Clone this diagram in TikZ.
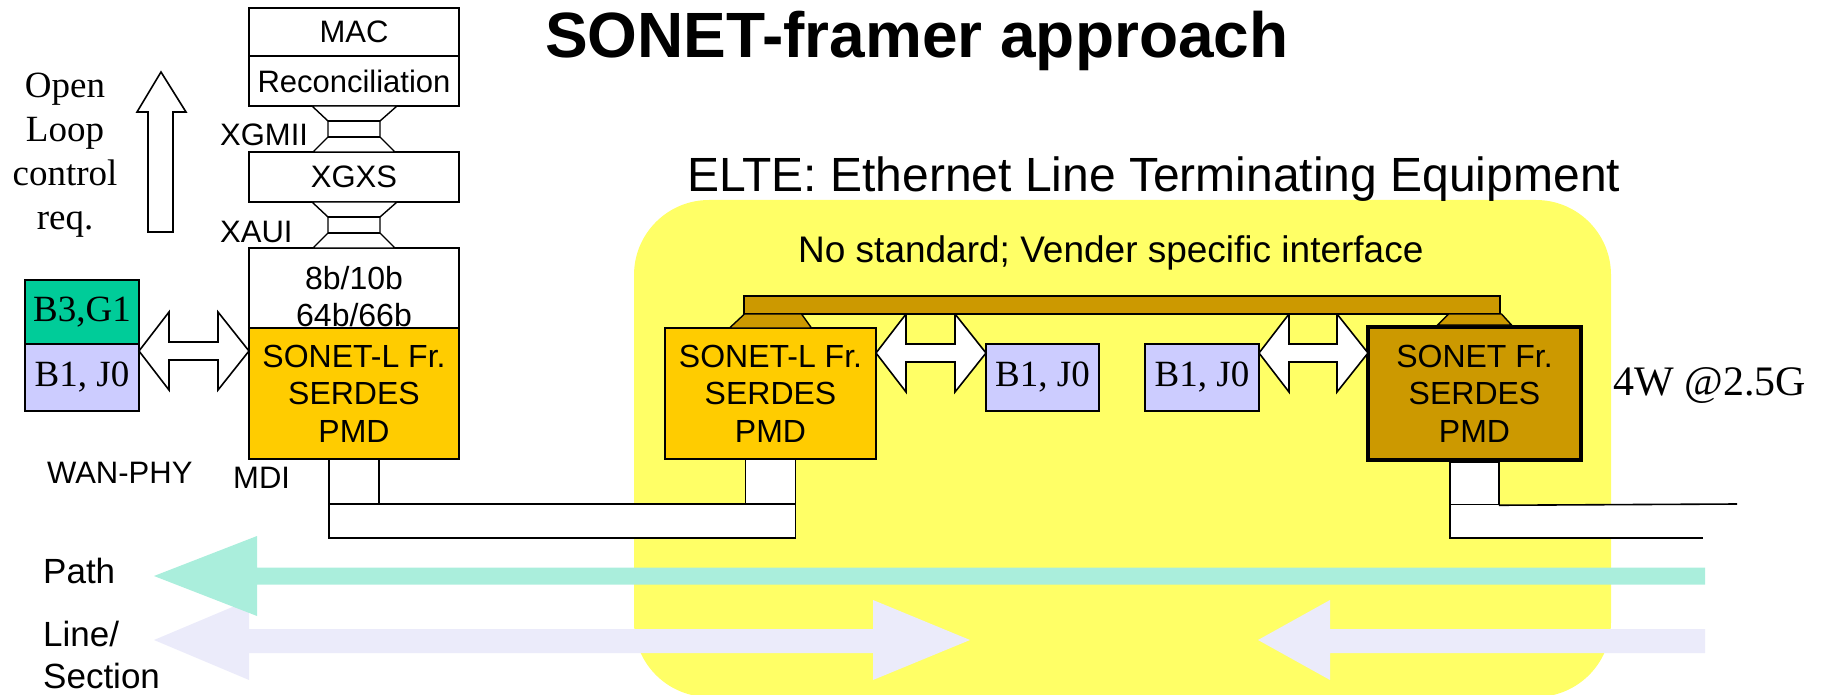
\documentclass[tikz,border=0pt]{standalone}
\usepackage{fontspec}
\setmainfont{Liberation Sans}
\newfontfamily\tms{Liberation Serif}
\usetikzlibrary{calc}
\definecolor{ylw}{HTML}{FFFF66}
\definecolor{orng}{HTML}{FFCC00}
\definecolor{gold}{HTML}{CC9900}
\definecolor{grn}{HTML}{00CC99}
\definecolor{lavbox}{HTML}{CCCCFF}
\definecolor{tealarr}{HTML}{AAEEDC}
\definecolor{lavarr}{HTML}{EBEBFA}
\newcommand\hglass[2]{%
  \path (#1.south) coordinate (ht) (#2.north) coordinate (hb);
  \draw[line width=1.4pt, fill=white] ($(ht)+(-42,0)$) -- ($(ht)+(43,0)$) -- ($(ht)+(26,15)$) -- ($(hb)+(26,-15)$) -- ($(hb)+(41,0)$) -- ($(hb)+(-41,0)$) -- ($(hb)+(-26,-15)$) -- ($(ht)+(-26,15)$) -- cycle;
  \draw[line width=1.4pt] ($(ht)+(-26,15)$) -- ($(ht)+(26,15)$) ($(hb)+(-26,-15)$) -- ($(hb)+(26,-15)$);
}
\newcommand\dblarr[3]{%
  \coordinate (ya) at (0,#3);
  \path (#1 |- ya) coordinate (L) (#2 |- ya) coordinate (R);
  \draw[darr] (L) -- ($(L)+(30,-39)$) -- ($(L)+(30,-9)$) -- ($(R)+(-31,-9)$) -- ($(R)+(-31,-39)$) -- (R) -- ($(R)+(-31,39)$) -- ($(R)+(-31,9)$) -- ($(L)+(30,9)$) -- ($(L)+(30,39)$) -- cycle;
}
\begin{document}
\begin{tikzpicture}[x=1pt,y=-1pt,
  box/.style={draw=black, line width=1.6pt, inner sep=0pt, outer sep=0pt, align=center, font=\fontsize{31}{36}\selectfont},
  sonbox/.style={box, minimum width=211pt, minimum height=131pt, font=\fontsize{32}{37.5}\selectfont},
  bjbox/.style={box, fill=lavbox, minimum width=114pt, minimum height=67pt, font=\tms\fontsize{37}{40}\selectfont},
  port/.style={box, fill=white, minimum width=50pt, minimum height=45pt, anchor=north},
  darr/.style={draw=black, line width=1.6pt, fill=white, line join=miter},
  lbl/.style={inner sep=0pt, anchor=base west, font=\fontsize{31}{36}\selectfont},
  trap/.style={draw=black, line width=1.4pt, fill=gold}
]
\useasboundingbox (0,0) rectangle (1825,695);
% ELTE background
\fill[ylw, rounded corners=75pt] (634,200) rectangle (1611,697);

% Title texts
\node[inner sep=0pt, anchor=base west, font=\bfseries\fontsize{64}{70}\selectfont] (title) at (545,58) {SONET-framer approach};
\node[inner sep=0pt, anchor=base west, font=\fontsize{48}{52}\selectfont] (elte) at (687,192) {ELTE: Ethernet Line Terminating Equipment};
\node[inner sep=0pt, anchor=base west, font=\fontsize{37}{42}\selectfont] (nostd) at (798,262) {No standard; Vender specific interface};

% Open loop
\node[inner sep=0pt, align=center, font=\tms\fontsize{37}{44}\selectfont] (olc) at (65,155) {Open\\Loop\\control\\req.};
\draw[line width=1.6pt, fill=white] (161,72) -- (186,112) -- (173,112) -- (173,232) -- (148,232) -- (148,112) -- (137,112) -- cycle;

% Left stack
\node[box, minimum width=210pt, minimum height=48pt] (mac) at (354,32) {MAC};
\node[box, minimum width=210pt, minimum height=50pt] (rec) at (354,81) {Reconciliation};
\node[box, minimum width=210pt, minimum height=50pt] (xgxs) at (354,177) {XGXS};
\node[box, minimum width=210pt, minimum height=80pt] (pcs) at (354,288) {};
\node[inner sep=0pt, align=center, font=\fontsize{32}{37}\selectfont] (pcst) at (354,297) {8b/10b\\64b/66b};
\node[sonbox, fill=orng, minimum width=210pt] (sonL) at (354,393.5) {SONET-L Fr.\\SERDES\\PMD};
\hglass{rec}{xgxs}
\hglass{xgxs}{pcs}
\node[lbl] (xgmii) at (220,146) {XGMII};
\node[lbl] (xaui) at (220,242) {XAUI};
\node[lbl] (wan) at (47,483) {WAN-PHY};
\node[lbl] (mdi) at (233,488) {MDI};

% B3,G1 / B1,J0 left
\node[bjbox, fill=grn, minimum height=64pt] (b3) at (82,312) {B3,G1};
\node[bjbox] (b1a) at (82,377.5) {B1, J0};
\dblarr{b1a.east}{sonL.west}{351}

% Middle ELTE
\node[sonbox, fill=orng] (sonM) at (770.5,393.5) {SONET-L Fr.\\SERDES\\PMD};
\node[bjbox, minimum width=113pt] (b1m) at (1042.5,377.5) {B1, J0};
\dblarr{sonM.east}{b1m.west}{353}
\node[bjbox] (b1r) at (1202,377.5) {B1, J0};
\node[sonbox, fill=gold, line width=4.5pt, minimum width=213pt, minimum height=133pt] (sonR) at (1474.5,393.5) {SONET Fr.\\SERDES\\PMD};
\dblarr{b1r.east}{sonR.west}{353}

% Bus
\node[draw=black, line width=1.4pt, fill=gold, inner sep=0pt, outer sep=0pt, minimum width=756pt, minimum height=18pt] (bus) at (1122,305) {};
\draw[trap] ($(sonM.north |- bus.south)+(-26,0)$) -- ($(sonM.north |- bus.south)+(31,0)$) -- ($(sonM.north)+(41,0)$) -- ($(sonM.north)+(-41,0)$) -- cycle;
\draw[trap] ($(sonR.north |- bus.south)+(-26,0)$) -- ($(sonR.north |- bus.south)+(27,0)$) -- ($(sonR.north)+(37,-2)$) -- ($(sonR.north)+(-37,-2)$) -- cycle;

\node[inner sep=0pt, anchor=base west, font=\tms\fontsize{42}{46}\selectfont] (pw) at (1613,395) {4W @2.5G};

% Fibers
\node[port] (portL) at (sonL.south) {};
\node[port] (portM) at (sonM.south) {};
\node[port, minimum width=48.5pt, minimum height=43pt] (portR) at ([yshift=-2.25pt]sonR.south) {};
\draw[line width=1.6pt, fill=white] (portL.south west) rectangle ($(portM.south east)+(0,34)$);
\coordinate (fe1) at (1737,504);
\coordinate (fe2) at (1703,538);
\fill[white] (portR.south west) rectangle (fe2);
\draw[line width=1.6pt] (portR.south east) -- (fe1);
\draw[line width=1.6pt] (portR.south west) -- (portR.south west |- fe2) -- (fe2);

% Path / Line arrows
\fill[lavarr] (154,640) -- (249,600) -- (249,629) -- (873,629) -- (873,600) -- (970,640) -- (873,680) -- (873,653) -- (249,653) -- (249,680) -- cycle;
\fill[lavarr] (1258,640) -- (1330,600) -- (1330,629) -- (1705,629) -- (1705,653) -- (1330,653) -- (1330,680) -- cycle;
\fill[tealarr] (154,576) -- (257,536) -- (257,567.5) -- (1705,567.5) -- (1705,584.5) -- (257,584.5) -- (257,616) -- cycle;
\node[inner sep=0pt, anchor=base west, font=\fontsize{35}{40}\selectfont] (path) at (43,583) {Path};
\node[inner sep=0pt, anchor=base west, font=\fontsize{35}{40}\selectfont] (line) at (43,646) {Line/};
\node[inner sep=0pt, anchor=base west, font=\fontsize{35}{40}\selectfont] (sect) at (43,688) {Section};
\end{tikzpicture}
\end{document}
